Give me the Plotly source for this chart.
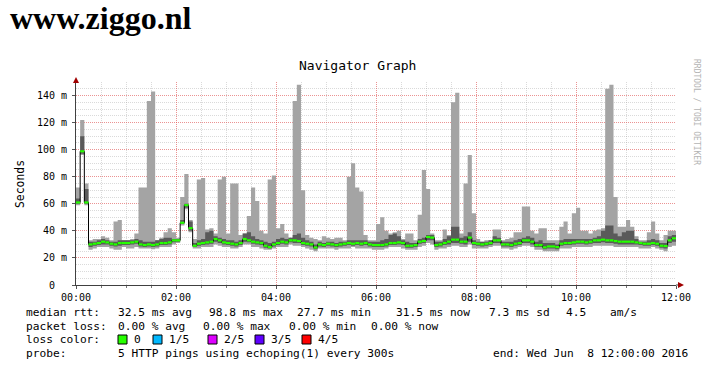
import plotly.graph_objects as go

# ---------------- data (5-minute steps, 00:00 .. 12:00) ----------------
TIMES_MIN = list(range(0, 720, 5))

MEDIAN = [
    61, 98.8, 61, 30, 30.5, 31, 32, 31.5, 30.5, 30, 31, 31,
    31, 31.5, 32, 30, 29.5, 30, 29.5, 30, 31, 31, 31.5, 33,
    33, 46, 59, 42, 29, 30.5, 31, 31.5, 32, 34, 33, 31.5,
    31, 30.5, 30, 31, 34, 33, 32, 31.5, 31, 29, 28, 30,
    31, 32, 31.5, 33, 33, 32.5, 31, 30.5, 30, 27.7, 30, 29.5,
    30.5, 30, 29.5, 30, 30.5, 31, 30.5, 31, 30.5, 31, 30, 29.5,
    29.5, 29.5, 30, 31, 31, 31.5, 31, 29, 29, 29.5, 32, 32.5,
    35.5, 35, 29.5, 30, 31, 32, 33.5, 33.5, 32, 32, 35, 31,
    30.5, 30, 30.5, 31, 33, 33, 30, 30, 29.5, 30.5, 31, 33,
    33, 32, 29.5, 29.5, 27.8, 28.5, 28.5, 28, 30.5, 31, 31, 31.5,
    32, 32, 31.5, 32, 33, 33, 33.5, 33, 33, 32.5, 32, 32,
    32, 32, 31.5, 31, 30.5, 30.5, 31, 30.5, 29, 28.8, 33, 34.5,
]

PING_MAX = [
    72, 122, 75, 33, 34, 34, 36, 35, 33, 47, 48, 33,
    33, 34, 38, 72, 72, 136, 143, 33, 35, 39, 42, 39,
    35, 65, 82, 48, 34, 78, 79, 41, 42, 38, 78, 80,
    38, 75, 75, 37, 38, 51, 72, 62, 40, 38, 78, 81,
    42, 45, 38, 35, 136, 148, 70, 37, 35, 34, 33, 36,
    35, 34, 35, 35, 33, 80, 90, 72, 69, 37, 33, 33,
    45, 50, 40, 38, 39, 40, 34, 38, 38, 33, 52, 85,
    71, 38, 33, 33, 41, 37, 135, 142, 38, 75, 96, 53,
    34, 32, 33, 33, 41, 41, 33, 34, 35, 39, 39, 58,
    58, 40, 38, 42, 42, 33, 33, 33, 43, 47, 38, 53,
    57, 40, 40, 38, 40, 41, 42, 145, 148, 65, 43, 43,
    48, 43, 36, 33, 33, 39, 47, 38, 33, 37, 40, 40,
]

PING_MIN = [
    59, 96, 59, 26, 27, 28, 28, 28, 27, 26, 26, 28,
    27, 27, 28, 27, 27, 27, 26.5, 27, 28, 28, 28, 30,
    31, 44, 56, 39, 27, 27, 28, 28, 28, 30, 29, 28,
    28, 27, 27, 28, 30, 30, 28, 28, 27, 26, 26, 27,
    28, 28, 28, 30, 29, 29, 28, 27, 26, 25, 27, 27,
    27, 27, 26, 27, 27, 27, 28, 27, 27, 27, 27, 26,
    26, 26, 27, 28, 28, 28, 27, 26, 26, 26, 28, 29,
    31, 30, 26, 27, 27, 28, 29, 29, 28, 28, 30, 27,
    27, 27, 27, 28, 29, 29, 27, 27, 26, 27, 28, 29,
    29, 28, 26, 26, 25, 25, 25, 25, 27, 27, 27, 28,
    28, 28, 28, 28, 29, 29, 29, 29, 29, 28, 28, 28,
    28, 28, 28, 27, 27, 27, 28, 27, 26, 25, 28, 29,
]

PING_LOW = [
    60, 97, 60, 28, 29, 29.5, 30, 30, 29, 28.5, 29, 29.5,
    29.5, 30, 30.5, 28.5, 28, 28.5, 28, 28.5, 29.5, 29.5, 30, 31.5,
    32, 45, 57, 40, 28, 29, 29.5, 30, 30.5, 32, 31, 30,
    29.5, 29, 28.5, 29.5, 32, 31.5, 30.5, 30, 29.5, 27.5, 27, 28.5,
    29.5, 30.5, 30, 31.5, 31, 31, 29.5, 29, 28.5, 26.5, 28.5, 28,
    29, 28.5, 28, 28.5, 29, 29.5, 29, 29.5, 29, 29.5, 28.5, 28,
    28, 28, 28.5, 29.5, 29.5, 30, 29.5, 27.5, 27.5, 28, 30.5, 31,
    33, 33, 28, 28.5, 29.5, 30, 31, 31, 30.5, 30, 32, 29.5,
    29, 28.5, 29, 29.5, 31, 31, 28.5, 28.5, 28, 29, 29.5, 31,
    31, 30, 28, 28, 26.5, 27, 27, 26.5, 29, 29.5, 29.5, 30,
    30.5, 30.5, 30, 30.5, 31, 31, 31.5, 31, 31, 30.5, 30, 30,
    30, 30, 30, 29.5, 29, 29, 29.5, 29, 27.5, 27, 31, 32,
]

PING_HIGH = [
    64, 110, 71, 32, 32, 33, 34, 33, 32, 32, 33, 33,
    33, 33, 34, 33, 32, 32, 32, 33, 34, 35, 35, 34,
    34, 48, 60, 47, 31, 33, 34, 39, 40, 36, 35, 34,
    33, 33, 32, 33, 38, 39, 36, 34, 33, 32, 31, 32,
    34, 35, 34, 35, 37, 38, 35, 33, 32, 30, 32, 31,
    32, 32, 31, 32, 32, 33, 33, 33, 33, 33, 32, 32,
    32, 33, 34, 37, 38, 36, 33, 32, 31, 31, 34, 35,
    37, 37, 32, 32, 34, 36, 43, 43, 35, 36, 39, 33,
    32, 32, 32, 33, 36, 35, 32, 32, 32, 33, 34, 35,
    36, 35, 32, 33, 31, 31, 31, 30, 33, 34, 34, 34,
    34, 34, 34, 34, 35, 36, 40, 44, 44, 38, 36, 39,
    40, 40, 34, 32, 32, 33, 34, 33, 31, 31, 36, 37,
]

X_TICK_VALS = [0, 120, 240, 360, 480, 600, 720]
X_TICK_TEXT = ["00:00", "02:00", "04:00", "06:00", "08:00", "10:00", "12:00"]
Y_TICK_VALS = [0, 20, 40, 60, 80, 100, 120, 140]
Y_TICK_TEXT = ["0\u00a0\u00a0", "20 m", "40 m", "60 m", "80 m", "100 m", "120 m", "140 m"]

LOSS_LABELS = ["0", "1/5", "2/5", "3/5", "4/5"]
LOSS_COLORS = ["#26ff00", "#00b8ff", "#dd00ff", "#5e00ff", "#ff0000"]

# ---------------- geometry helpers ----------------
W, H = 711, 365
ML, MR, MT, MB = 76, 35, 82, 80
PW, PH = W - ML - MR, H - MT - MB


def px(x):
    return (x - ML) / PW


def py(y):
    return (H - MB - y) / PH


MONO = "DejaVu Sans Mono"
OUTER = "#a4a4a4"
INNER = "#5a5a5a"

step_x = TIMES_MIN + [720]


def ext(a):
    return list(a) + [a[-1]]


fig = go.Figure()

# outer smoke (min..max)
fig.add_trace(go.Scatter(x=step_x, y=ext(PING_MIN), mode="lines",
                         line=dict(width=0, shape="hv", color=OUTER),
                         hoverinfo="skip"))
fig.add_trace(go.Scatter(x=step_x, y=ext(PING_MAX), mode="lines",
                         line=dict(width=0, shape="hv", color=OUTER),
                         fill="tonexty", fillcolor=OUTER, hoverinfo="skip"))
# inner smoke
fig.add_trace(go.Scatter(x=step_x, y=ext(PING_LOW), mode="lines",
                         line=dict(width=0, shape="hv", color=INNER),
                         hoverinfo="skip"))
fig.add_trace(go.Scatter(x=step_x, y=ext(PING_HIGH), mode="lines",
                         line=dict(width=0, shape="hv", color=INNER),
                         fill="tonexty", fillcolor=INNER, hoverinfo="skip"))
# median line (black steps)
fig.add_trace(go.Scatter(x=step_x, y=ext(MEDIAN), mode="lines",
                         line=dict(width=1, shape="hv", color="#000000"),
                         hoverinfo="skip"))
# loss-coloured median segments (all 0 loss -> green)
gx, gy = [], []
for t, m in zip(TIMES_MIN, MEDIAN):
    gx += [t, t + 5, None]
    gy += [m, m, None]
fig.add_trace(go.Scatter(x=gx, y=gy, mode="lines",
                         line=dict(width=2.2, color=LOSS_COLORS[0]),
                         hoverinfo="skip"))

grid_major = "rgba(255,60,60,0.45)"
grid_minor = "rgba(150,150,150,0.35)"

fig.update_xaxes(range=[0, 720], tickvals=X_TICK_VALS, ticktext=X_TICK_TEXT,
                 showgrid=True, gridcolor=grid_major, griddash="1px,1px", gridwidth=1,
                 minor=dict(dtick=30, tick0=0, showgrid=True, gridcolor=grid_minor,
                            griddash="1px,1px", ticks="outside", ticklen=2,
                            tickcolor="#777"),
                 ticks="outside", ticklen=3, tickcolor="#555",
                 showline=True, linecolor="#404040", linewidth=1,
                 zeroline=False, tickfont=dict(family=MONO, size=10, color="#000"),
                 fixedrange=True)
fig.update_yaxes(range=[0, 150], tickvals=Y_TICK_VALS, ticktext=Y_TICK_TEXT,
                 showgrid=True, gridcolor=grid_major, griddash="1px,1px", gridwidth=1,
                 minor=dict(dtick=5, tick0=0, showgrid=True, gridcolor=grid_minor,
                            griddash="1px,1px"),
                 ticks="outside", ticklen=3, tickcolor="#555",
                 showline=True, linecolor="#404040", linewidth=1,
                 zeroline=False, tickfont=dict(family=MONO, size=10, color="#000"),
                 ticklabelstandoff=3, fixedrange=True)

shapes = []
# axis extensions + arrows
shapes.append(dict(type="line", xref="paper", yref="paper", x0=1, x1=px(680), y0=0, y1=0,
                   line=dict(color="#404040", width=1)))
shapes.append(dict(type="path", xref="paper", yref="paper",
                   path=f"M {px(678)} {py(282)} L {px(684)} {py(285)} L {px(678)} {py(288)} Z",
                   fillcolor="#a00000", line=dict(width=0)))
shapes.append(dict(type="line", xref="paper", yref="paper", x0=0, x1=0, y0=1, y1=py(81),
                   line=dict(color="#404040", width=1)))
shapes.append(dict(type="path", xref="paper", yref="paper",
                   path=f"M {px(73)} {py(83)} L {px(76)} {py(77)} L {px(79)} {py(83)} Z",
                   fillcolor="#a00000", line=dict(width=0)))

ann = []


def text(x, y, s, size=11, anchor="left", family=MONO, color="#000", angle=0, **kw):
    ann.append(dict(x=px(x), y=py(y), xref="paper", yref="paper", text=s,
                    showarrow=False, xanchor=anchor, yanchor="middle",
                    textangle=angle, font=dict(family=family, size=size, color=color, **kw)))


# page heading
text(8, 18, "www.ziggo.nl", size=32, family="Liberation Serif", weight="bold")
# title, unit, watermark
text(357, 65, "Navigator Graph", size=13, anchor="center")
text(20, 184, "Seconds", size=11.4, anchor="center", angle=-90)
text(697, 112, "RRDTOOL / TOBI OETIKER", size=8, anchor="center", angle=90, color="#b4b4b4")

FS = 11.2
r1, r2, r3, r4 = 312, 326, 339.5, 353
text(24, r1, "median rtt:", FS)
text(116, r1, "32.5 ms avg", FS)
text(207, r1, "98.8 ms max", FS)
text(295, r1, "27.7 ms min", FS)
text(394, r1, "31.5 ms now", FS)
text(487, r1, "7.3 ms sd", FS)
text(564, r1, "4.5", FS)
text(608, r1, "am/s", FS)

text(24, r2, "packet loss:", FS)
text(116, r2, "0.00 % avg", FS)
text(201, r2, "0.00 % max", FS)
text(287, r2, "0.00 % min", FS)
text(369, r2, "0.00 % now", FS)

text(24, r3, "loss color:", FS)
box_x = [118, 153, 208, 255, 302]
for bx, lab, col in zip(box_x, LOSS_LABELS, LOSS_COLORS):
    shapes.append(dict(type="rect", xref="paper", yref="paper",
                       x0=px(bx), x1=px(bx + 9), y0=py(r3 + 4.5), y1=py(r3 - 4.5),
                       fillcolor=col, line=dict(color="#000", width=1)))
    text(bx + 14, r3, lab, FS)

text(24, r4, "probe:", FS)
text(116, r4, "5 HTTP pings using echoping(1) every 300s", FS)
text(691, r4, "end: Wed Jun\u00a0\u00a08 12:00:00 2016", FS, anchor="right")

fig.update_layout(width=W, height=H, margin=dict(l=ML, r=MR, t=MT, b=MB, pad=0),
                  paper_bgcolor="#ffffff", plot_bgcolor="#ffffff",
                  showlegend=False, shapes=shapes, annotations=ann)

fig.write_html("out.html")
